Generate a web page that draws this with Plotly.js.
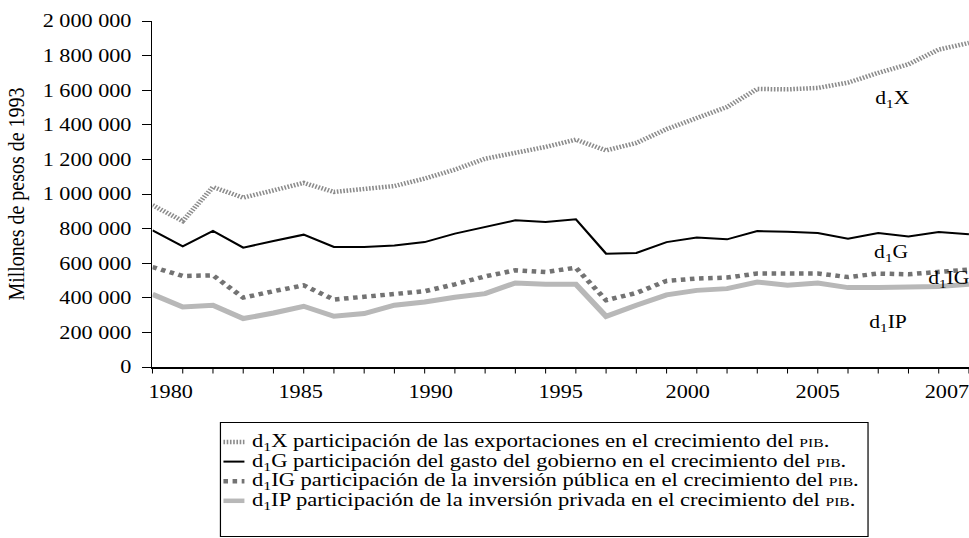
<!DOCTYPE html>
<html>
<head>
<meta charset="utf-8">
<script src="https://cdn.plot.ly/plotly-3.0.1.min.js"></script>
<style>
html,body{margin:0;padding:0;background:#fff;overflow:hidden;}
/* the reference's lettering is horizontally wide: draw at 807px and stretch to 969px */
#chart{width:807px;height:538px;transform:scaleX(1.2007);transform-origin:0 0;}
</style>
</head>
<body>
<div id="chart"></div>
<script>
// ---- data ----
const years = [1980,1981,1982,1983,1984,1985,1986,1987,1988,1989,1990,1991,1992,1993,1994,1995,1996,1997,1998,1999,2000,2001,2002,2003,2004,2005,2006,2007];
const d1X  = [935000,844000,1040000,979000,1021000,1064000,1012000,1031000,1046000,1089000,1141000,1204000,1237000,1272000,1314000,1252000,1295000,1375000,1439000,1503000,1607000,1605000,1613000,1644000,1700000,1750000,1835000,1873000];
const d1G  = [790000,697000,786000,690000,728000,765000,694000,694000,702000,722000,771000,809000,848000,838000,854000,655000,659000,722000,748000,738000,786000,782000,775000,742000,775000,755000,780000,767000];
const d1IG = [578000,526000,530000,401000,438000,472000,390000,405000,420000,438000,478000,524000,559000,549000,574000,386000,428000,498000,511000,517000,540000,540000,540000,520000,540000,536000,547000,563000];
const d1IP = [420000,347000,357000,280000,312000,351000,293000,309000,357000,376000,403000,424000,486000,478000,478000,293000,357000,417000,443000,453000,491000,472000,486000,459000,459000,459000,466000,478000];
const xTickLabels = ['1980','1985','1990','1995','2000','2005','2007'];
const seriesNames = ['d<sub>1</sub>X','d<sub>1</sub>G','d<sub>1</sub>IG','d<sub>1</sub>IP'];
const legendTexts = [
  'participación de las exportaciones en el crecimiento del <span style="font-size:13px">PIB</span>.',
  'participación del gasto del gobierno en el crecimiento del <span style="font-size:13px">PIB</span>.',
  'participación de la inversión pública en el crecimiento del <span style="font-size:13px">PIB</span>.',
  'participación de la inversión privada en el crecimiento del <span style="font-size:13px">PIB</span>.'
];
const yTitle = 'Millones de pesos de 1993';

// ---- layout helpers (final-picture pixels -> paper fractions) ----
const S = 969 / 807;            // horizontal stretch applied by CSS
const W = 969, H = 538, ML = 152, MR = 0, MT = 21, MB = 171;
const PW = W - ML - MR, PH = H - MT - MB;
const px = v => (v - ML) / PW;
const py = v => (H - MB - v) / PH;
const FONT = '"Liberation Serif", "Times New Roman", serif';
// where the year labels sit along the axis in the reference (year units)
const xLabelPos = [1980.6, 1984.9, 1989.2, 1993.5, 1997.7, 2002.0, 2006.27];

const styles = [
  {color:'#8c8c8c', width:4.5, dash:'1.35px,1.35px'},
  {color:'#000000', width:2, dash:'solid'},
  {color:'#737373', width:4.5, dash:'3.8px,3.8px'},
  {color:'#b8b8b8', width:5, dash:'solid'}
];
const series = [d1X, d1G, d1IG, d1IP];

const drawOrder = [3, 2, 1, 0];
const traces = drawOrder.map(i => ({
  type:'scatter', mode:'lines', x:years, y:series[i], name:seriesNames[i],
  line:{color:styles[i].color, width:styles[i].width, dash:styles[i].dash},
  showlegend:false, hoverinfo:'skip'
}));

// in-plot labels
const labelPos = [
  {px:892, py:100}, {px:891, py:253}, {px:948, py:279}, {px:888, py:323}
];
const annotations = labelPos.map((p,i) => ({
  xref:'paper', yref:'paper', x:px(p.px), y:py(p.py), xanchor:'center', yanchor:'middle',
  text:seriesNames[i], showarrow:false, font:{family:FONT, size:18, color:'#000'}
}));

// custom legend (box, line samples, texts)
const rowY = [442, 461.6, 481.2, 500.8];
const shapes = [{
  type:'rect', xref:'paper', yref:'paper', x0:px(220), x1:px(868), y0:py(422.5), y1:py(536.5),
  line:{color:'#000', width:1}, fillcolor:'rgba(0,0,0,0)'
}];
rowY.forEach((ry,i) => {
  shapes.push({type:'line', xref:'paper', yref:'paper', x0:px(223), x1:px(244), y0:py(ry), y1:py(ry),
    line:{color:styles[i].color, width:i===1?2:4.5, dash:styles[i].dash}});
  annotations.push({xref:'paper', yref:'paper', x:px(249), y:py(ry), xanchor:'left', yanchor:'middle',
    text:seriesNames[i] + ' ' + legendTexts[i], showarrow:false, font:{family:FONT, size:18.8, color:'#000'}});
});

const layout = {
  width:807, height:H, margin:{l:ML/S, r:MR, t:MT, b:MB, pad:0},
  paper_bgcolor:'#fff', plot_bgcolor:'#fff', separators:'. ',
  showlegend:false,
  font:{family:FONT, size:18.5, color:'#000'},
  xaxis:{
    range:[1980, 2007], showgrid:false, zeroline:false, showline:true, linecolor:'#000', linewidth:1.5,
    ticks:'', tickvals:xLabelPos, ticktext:xTickLabels, tickfont:{family:FONT, size:18.5, color:'#000'},
    ticklabelstandoff:7, ticklabeloverflow:'allow',
    minor:{ticks:'outside', ticklen:5, tickwidth:0.85, tickcolor:'#000', dtick:1, tick0:1980, showgrid:false}
  },
  yaxis:{
    range:[0, 2000000], dtick:200000, tick0:0, tickformat:',d', showgrid:false, zeroline:false,
    showline:true, linecolor:'#000', linewidth:1.3, ticks:'outside', ticklen:7.5, tickwidth:1, tickcolor:'#000',
    tickfont:{family:FONT, size:18.5, color:'#000'}, ticklabelstandoff:5,
    title:{text:yTitle, font:{family:FONT, size:20, color:'#000'}, standoff:9}
  },
  shapes:shapes, annotations:annotations
};

Plotly.newPlot('chart', traces, layout, {displayModeBar:false, staticPlot:true});
</script>
</body>
</html>
